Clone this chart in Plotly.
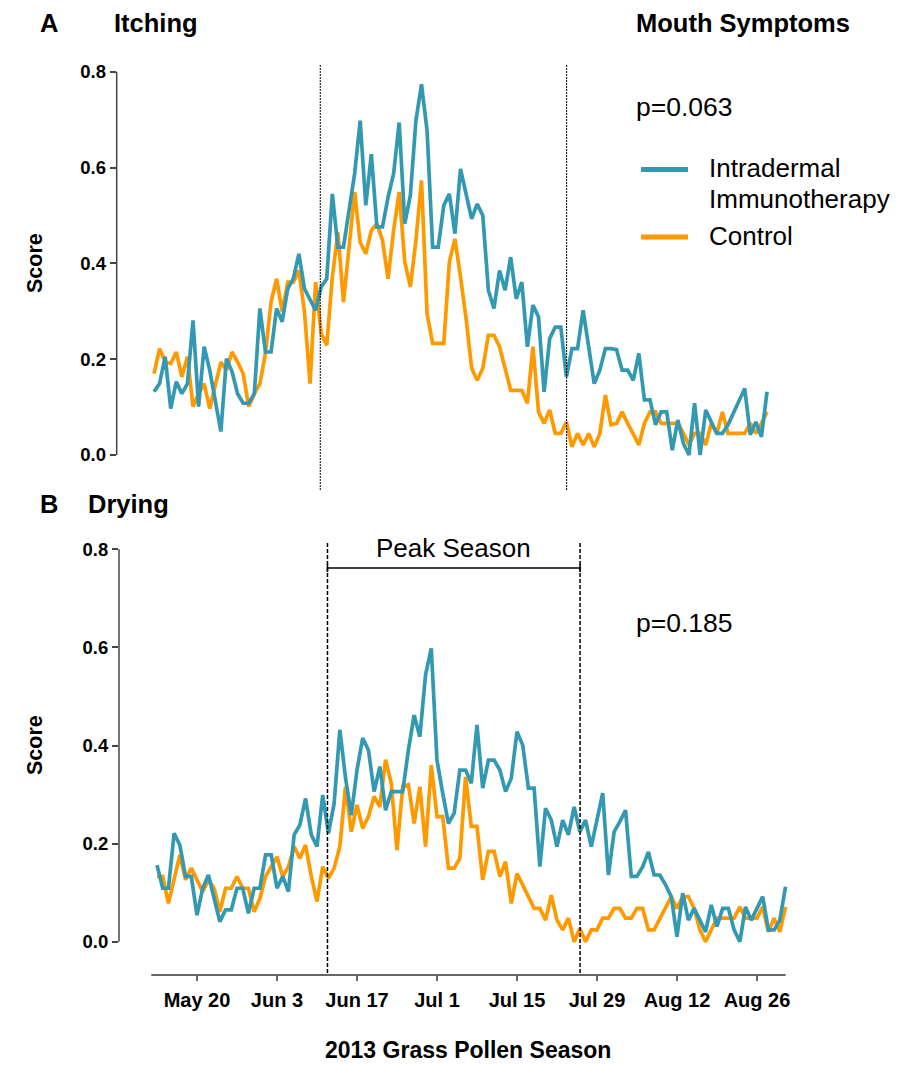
import pandas as pd
import plotly.graph_objects as go

# ---------------- data ----------------
dates = pd.date_range("2013-05-13", "2013-08-31", freq="D")

itching_intradermal = [
    0.132, 0.149, 0.205, 0.097, 0.153, 0.128, 0.149, 0.281, 0.101, 0.226, 0.177, 0.108, 0.049, 0.201, 0.174, 0.128,
    0.108, 0.108, 0.128, 0.306, 0.215, 0.215, 0.306, 0.278, 0.347, 0.368, 0.420, 0.347, 0.326, 0.302, 0.351, 0.368,
    0.545, 0.434, 0.434, 0.517, 0.587, 0.698, 0.521, 0.628, 0.476, 0.476, 0.538, 0.587, 0.694, 0.483, 0.542, 0.698,
    0.774, 0.677, 0.434, 0.434, 0.521, 0.545, 0.462, 0.597, 0.545, 0.493, 0.524,
    0.500, 0.344, 0.306, 0.385, 0.344, 0.413, 0.326, 0.361, 0.226, 0.313, 0.288, 0.132, 0.243, 0.267, 0.267, 0.163,
    0.222, 0.222, 0.302, 0.226, 0.149, 0.177, 0.222, 0.222,
    0.220, 0.177, 0.177, 0.156, 0.212, 0.115, 0.115, 0.063, 0.090, 0.090, 0.010, 0.073, 0.024, 0.000, 0.108, 0.000,
    0.094, 0.069, 0.045, 0.045, 0.063, None, None, 0.139, 0.042, 0.069, 0.038, 0.132,
]
itching_control = [
    0.170, 0.222, 0.194, 0.191, 0.215, 0.163, 0.205, 0.101, 0.128, 0.149, 0.097, 0.146, 0.194, 0.177, 0.215, 0.194,
    0.170, 0.101, 0.128, 0.149, 0.212, 0.319, 0.368, 0.299, 0.361, 0.361, 0.385, 0.299, 0.149, 0.361, 0.253, 0.229,
    0.372, 0.465, 0.319, 0.434, 0.549, 0.444, 0.420, 0.469, 0.483, 0.448, 0.368, 0.469, 0.549, 0.403, 0.351, 0.448,
    0.573, 0.295, 0.233, 0.233, 0.233, 0.403, 0.451, 0.372, 0.285, 0.181, 0.156,
    0.181, 0.250, 0.250, 0.226, 0.181, 0.135, 0.135, 0.135, 0.108, 0.226, 0.090, 0.066, 0.094, 0.045, 0.045, 0.069,
    0.017, 0.045, 0.021, 0.045, 0.017, 0.045, 0.125, 0.063,
    0.066, 0.090, 0.066, 0.045, 0.021, 0.066, 0.090, 0.090, 0.066, 0.066, 0.066, 0.066, 0.045, 0.021, 0.045, 0.045,
    0.021, 0.066, 0.045, 0.090, 0.045, 0.045, 0.045, 0.045, 0.066, 0.045, 0.066, 0.090,
]
drying_intradermal = [
    0.156, 0.109, 0.109, 0.221, 0.197, 0.133, 0.133, 0.054, 0.109, 0.136, 0.088, 0.041, 0.065, 0.065, 0.109, 0.109,
    0.058, 0.109, 0.109, 0.177, 0.177, 0.109, 0.133, 0.102, 0.218, 0.238, 0.292, 0.218, 0.194, 0.299, 0.221,
    0.282, 0.432, 0.333, 0.258, 0.350, 0.415, 0.391, 0.306, 0.357, 0.268, 0.306, 0.306, 0.306, 0.391, 0.462, 0.418,
    0.544, 0.598, 0.370, 0.303, 0.241, 0.262, 0.350, 0.350, 0.323, 0.442,
    0.313, 0.370, 0.370, 0.350, 0.306, 0.333, 0.428, 0.401, 0.313, 0.313, 0.153, 0.272, 0.248, 0.194, 0.248, 0.218,
    0.275, 0.224, 0.248, 0.194, 0.248, 0.303, 0.136,
    0.224, 0.245, 0.268, 0.133, 0.133, 0.153, 0.183, 0.136, 0.136, 0.116, 0.092, 0.010, 0.099, 0.044, 0.068, 0.044,
    0.020, 0.075, 0.031, 0.068, 0.068, 0.024, 0.000, 0.071, 0.044, 0.068, 0.092, 0.024, 0.024, 0.044, 0.112,
]
drying_control = [
    0.133, 0.133, 0.078, 0.126, 0.177, 0.126, 0.150, 0.126, 0.102, 0.126, 0.109, 0.061, 0.109, 0.109, 0.133, 0.109,
    0.109, 0.061, 0.088, 0.133, 0.153, 0.173, 0.133, 0.153, 0.194, 0.170, 0.197, 0.133, 0.082, 0.153, 0.129,
    0.150, 0.194, 0.316, 0.224, 0.279, 0.231, 0.255, 0.296, 0.275, 0.371, 0.323, 0.187, 0.316, 0.320, 0.241, 0.316,
    0.194, 0.360, 0.255, 0.255, 0.150, 0.150, 0.170, 0.336, 0.235, 0.235,
    0.126, 0.184, 0.184, 0.133, 0.163, 0.078, 0.139, 0.116, 0.092, 0.068, 0.068, 0.044, 0.095, 0.044, 0.024, 0.048,
    0.000, 0.027, 0.000, 0.024, 0.024, 0.048, 0.048,
    0.068, 0.068, 0.048, 0.048, 0.068, 0.068, 0.024, 0.024, 0.048, 0.071, 0.092, 0.068, 0.092, 0.092, 0.068, 0.024,
    0.000, 0.024, 0.048, 0.048, 0.048, 0.048, 0.071, 0.048, 0.048, 0.048, 0.071, 0.020, 0.048, 0.020, 0.071,
]

tick_dates = ["2013-05-20", "2013-06-03", "2013-06-17", "2013-07-01",
              "2013-07-15", "2013-07-29", "2013-08-12", "2013-08-26"]
tick_labels = ["May 20", "Jun 3", "Jun 17", "Jul 1", "Jul 15", "Jul 29", "Aug 12", "Aug 26"]
y_ticks = [0.0, 0.2, 0.4, 0.6, 0.8]
y_tick_labels = ["0.0", "0.2", "0.4", "0.6", "0.8"]
peak_start = "2013-06-11 20:00"
peak_end = "2013-07-26 01:00"
axis_start = "2013-05-12"
axis_end = "2013-08-31"
series_names = ["Intradermal Immunotherapy", "Control"]
p_values = ["p=0.063", "p=0.185"]

# ---------------- styling helpers ----------------
W, H = 898, 1066
BLUE = "#3399b2"
ORANGE = "#ff9900"
FONT = "Liberation Sans, Arial, Helvetica, sans-serif"
AXC = "#444444"


def px(x):
    return x / W


def py(y):
    return 1 - y / H


t0 = pd.Timestamp("2013-05-13")


def day(d):
    return (t0 + pd.Timedelta(days=d)).strftime("%Y-%m-%d %H:%M:%S")


fig = go.Figure()
# Panel A
fig.add_trace(go.Scatter(x=dates, y=itching_control, mode="lines", name=series_names[1],
                         line=dict(color=ORANGE, width=3.7), xaxis="x", yaxis="y", showlegend=False))
fig.add_trace(go.Scatter(x=dates, y=itching_intradermal, mode="lines", name=series_names[0],
                         line=dict(color=BLUE, width=3.7), connectgaps=True,
                         xaxis="x", yaxis="y", showlegend=False))
# Panel B
fig.add_trace(go.Scatter(x=dates, y=drying_control, mode="lines", name=series_names[1],
                         line=dict(color=ORANGE, width=3.7), xaxis="x2", yaxis="y2", showlegend=False))
fig.add_trace(go.Scatter(x=dates, y=drying_intradermal, mode="lines", name=series_names[0],
                         line=dict(color=BLUE, width=3.7), xaxis="x2", yaxis="y2", showlegend=False))

ytick_common = dict(
    tickvals=y_ticks, ticktext=y_tick_labels, ticks="outside", ticklen=6, tickwidth=1.5,
    tickcolor=AXC, showline=False, showgrid=False, zeroline=False, automargin=False,
    tickfont=dict(family=FONT, size=18.5, color="black", weight="bold"),
)

fig.update_layout(
    width=W, height=H, autosize=False,
    margin=dict(l=0, r=0, t=0, b=0),
    paper_bgcolor="white", plot_bgcolor="white",
    showlegend=False,
    xaxis=dict(domain=[px(116.7), px(782)], range=[day(-6.693), day(112.69)],
               visible=False, anchor="y", automargin=False),
    yaxis=dict(domain=[py(495), py(60)], range=[-0.0835, 0.8245], anchor="x", **ytick_common),
    xaxis2=dict(domain=[px(119), px(792)], range=[day(-6.650), day(111.13)], anchor="y2",
                tickvals=tick_dates, ticktext=tick_labels, ticks="outside", ticklen=5, tickwidth=1.5,
                tickcolor="#666666", showline=False, showgrid=False, zeroline=False, automargin=False,
                ticklabelstandoff=2,
                tickfont=dict(family=FONT, size=20, color="black", weight="bold")),
    yaxis2=dict(domain=[py(975), py(540)], range=[-0.0679, 0.8190], anchor="x2", **ytick_common),
)

shapes = [
    # y axis lines
    dict(type="line", xref="paper", yref="y", x0=px(116.7), x1=px(116.7), y0=0, y1=0.8,
         line=dict(color=AXC, width=1.5)),
    dict(type="line", xref="paper", yref="y2", x0=px(119), x1=px(119), y0=0, y1=0.8,
         line=dict(color=AXC, width=1.5)),
    # x axis line panel B
    dict(type="line", xref="x2", yref="paper", x0=axis_start, x1=axis_end, y0=py(975), y1=py(975),
         line=dict(color="#666666", width=2)),
    # peak season markers panel A
    dict(type="line", xref="x", yref="paper", x0=peak_start, x1=peak_start, y0=py(490), y1=py(65),
         line=dict(color="black", width=1, dash="2px,1px")),
    dict(type="line", xref="x", yref="paper", x0=peak_end, x1=peak_end, y0=py(490), y1=py(65),
         line=dict(color="black", width=1, dash="2px,1px")),
    # peak season markers panel B
    dict(type="line", xref="x2", yref="paper", x0=peak_start, x1=peak_start, y0=py(973), y1=py(543),
         line=dict(color="black", width=1.5, dash="4px,2px")),
    dict(type="line", xref="x2", yref="paper", x0=peak_end, x1=peak_end, y0=py(973), y1=py(543),
         line=dict(color="black", width=1.5, dash="4px,2px")),
    dict(type="line", xref="x2", yref="paper", x0=peak_start, x1=peak_end, y0=py(568), y1=py(568),
         line=dict(color="black", width=1.5)),
    dict(type="line", xref="x2", yref="paper", x0=peak_start, x1=peak_start, y0=py(564), y1=py(572),
         line=dict(color="black", width=1.5)),
    dict(type="line", xref="x2", yref="paper", x0=peak_end, x1=peak_end, y0=py(564), y1=py(572),
         line=dict(color="black", width=1.5)),
    # legend samples
    dict(type="line", xref="paper", yref="paper", x0=px(641), x1=px(688), y0=py(169.5), y1=py(169.5),
         line=dict(color=BLUE, width=5)),
    dict(type="line", xref="paper", yref="paper", x0=px(641), x1=px(688), y0=py(237), y1=py(237),
         line=dict(color=ORANGE, width=5)),
]
fig.update_layout(shapes=shapes)


def ann(text, x, y, size, bold=False, xanchor="left", angle=0):
    return dict(text=text, x=px(x), y=py(y), xref="paper", yref="paper", xanchor=xanchor,
                yanchor="middle", showarrow=False, textangle=angle,
                font=dict(family=FONT, size=size, color="black", weight="bold" if bold else "normal"))


annotations = [
    ann("A", 38, 23, 25.5, True),
    ann("Itching", 112, 23, 25.5, True),
    ann("Mouth Symptoms", 634, 23, 25.5, True),
    ann("B", 38, 504, 25.5, True),
    ann("Drying", 86, 504, 25.5, True),
    ann("Score", 35, 263, 21.5, True, xanchor="center", angle=-90),
    ann("Score", 35, 745, 21.5, True, xanchor="center", angle=-90),
    ann(p_values[0], 634, 107, 26.5),
    ann(p_values[1], 634, 623, 26.5),
    ann("Intradermal", 707, 168.5, 26),
    ann("Immunotherapy", 707, 199, 26),
    ann("Control", 707, 236.5, 26),
    ann("Peak Season", 453.5, 547.5, 26, xanchor="center"),
    ann("2013 Grass Pollen Season", 468, 1050, 23, True, xanchor="center"),
]
fig.update_layout(annotations=annotations)

fig.write_html("out.html")
